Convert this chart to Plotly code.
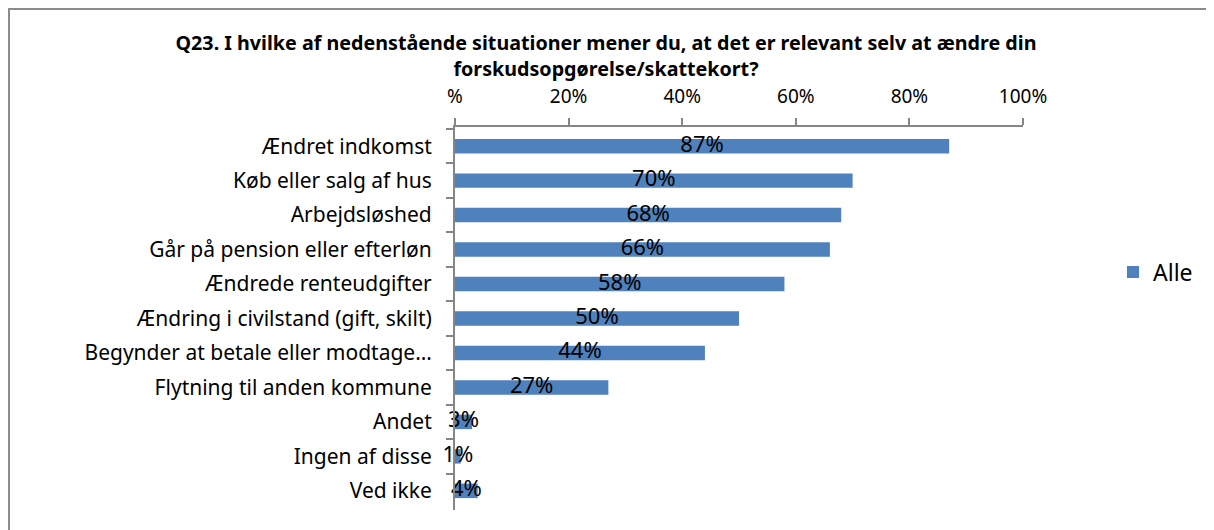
import plotly.graph_objects as go

categories = ["Ændret indkomst", "Køb eller salg af hus", "Arbejdsløshed",
              "Går på pension eller efterløn", "Ændrede renteudgifter",
              "Ændring i civilstand (gift, skilt)", "Begynder at betale eller modtage…",
              "Flytning til anden kommune", "Andet", "Ingen af disse", "Ved ikke"]
values = [87, 70, 68, 66, 58, 50, 44, 27, 3, 1, 4]
labels = [f"{v}%" for v in values]
tick_vals = [0, 20, 40, 60, 80, 100]
tick_text = ["%", "20%", "40%", "60%", "80%", "100%"]

W, H = 1214, 530
OFF = 8  # page body offset
L, T = 455 - OFF, 127 - OFF
R = W - (1023 - OFF)
B = H - (510 - OFF)
pw, ph = W - L - R, H - T - B
PB = H - B  # plot bottom in figure px
FONT = "Noto Sans"

fig = go.Figure()
fig.add_trace(go.Bar(
    y=categories, x=values, orientation="h", name="Alle",
    marker=dict(color="#4F81BD", line=dict(width=0)),
    width=0.42,
))
fig.add_trace(go.Scatter(
    y=categories, x=[v / 2 for v in values], mode="text", text=labels,
    textposition="middle center", showlegend=False, cliponaxis=False,
    textfont=dict(size=22, color="black", family=FONT),
    hoverinfo="skip",
))

fig.update_layout(
    width=W, height=H,
    margin=dict(l=L, r=R, t=T, b=B, autoexpand=False),
    paper_bgcolor="white", plot_bgcolor="white",
    font=dict(family=FONT, color="black", size=19),
    title=dict(
        text="<b>Q23. I hvilke af nedenstående situationer mener du, at det er relevant selv at ændre din<br>forskudsopgørelse/skattekort?</b>",
        x=(606 - OFF - L) / pw, xref="paper", xanchor="center",
        y=1 - 42 / H, yanchor="top",
        font=dict(size=19.7, family=FONT, color="black"),
    ),
    xaxis=dict(
        side="top", range=[0, 100], tickvals=tick_vals, ticktext=tick_text,
        ticks="outside", ticklen=7, tickcolor="#868686", tickwidth=2,
        showline=True, linecolor="#868686", linewidth=2,
        showgrid=False, zeroline=False, automargin=False,
        tickfont=dict(size=19), ticklabelstandoff=7,
    ),
    yaxis=dict(
        autorange="reversed", categoryorder="array", categoryarray=categories,
        ticks="outside", tickson="boundaries", ticklen=7, tickcolor="#868686", tickwidth=2,
        showline=True, linecolor="#868686", linewidth=2, automargin=False,
        showgrid=False, zeroline=False, tickfont=dict(size=21), ticklabelstandoff=17,
    ),
    legend=dict(
        x=(1105 - L) / pw, y=(PB - 264) / ph, xanchor="left", yanchor="middle",
        font=dict(size=23), itemwidth=30,
    ),
    bargap=0.58,
)
fig.add_shape(type="line", xref="paper", yref="paper",
              x0=(1 - L) / pw, x1=(1 - L) / pw, y0=(PB - 540) / ph, y1=(PB - 0) / ph,
              line=dict(color="#8c8c8c", width=2))
fig.add_shape(type="line", xref="paper", yref="paper",
              x0=(1 - L) / pw, x1=(1220 - L) / pw, y0=(PB - 1) / ph, y1=(PB - 1) / ph,
              line=dict(color="#8c8c8c", width=2))
fig.write_html("out.html")
